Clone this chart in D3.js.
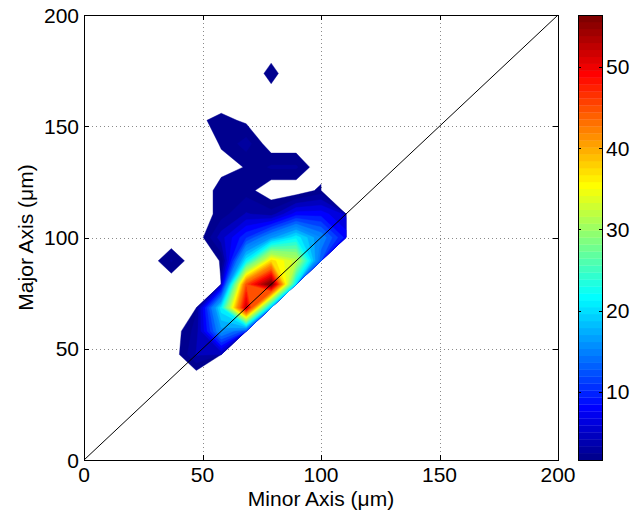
<!DOCTYPE html>
<html>
<head>
<meta charset="utf-8">
<script src="https://cdn.jsdelivr.net/npm/d3@7"></script>
<style>
  body { margin: 0; background: #fff; }
  svg { display: block; font-family: "Liberation Sans", Arial, Helvetica, sans-serif; }
</style>
</head>
<body>
<svg id="chart" width="631" height="512"></svg>
<script>
// Bin centres (µm) of the 2-D size histogram
const minorCenters = [5.26, 15.79, 26.32, 36.84, 47.37, 57.89, 68.42, 78.95, 89.47, 100.0, 110.53, 121.05];
const majorCenters = [5.26, 15.79, 26.32, 36.84, 47.37, 57.89, 68.42, 78.95, 89.47, 100.0,
                      110.53, 121.05, 131.58, 142.11, 152.63, 163.16, 173.68, 184.21, 194.74];

// Counts per bin, one row per major-axis bin (bottom row first).
// null = empty bin (left blank by contourf)
const n = null;
const counts = [
  [0, 0, n, n, n, n, n, n, n, n, n, n],
  [0, 0, 0, n, n, n, n, n, n, n, n, n],
  [0, 0, 0, 0, n, n, n, n, n, n, n, n],
  [0, 0, 0, 0, 0, n, n, n, n, n, n, n],
  [0, 0, 0, 0, 5, 5, n, n, n, n, n, n],
  [0, 0, 0, 0, 4, 17, 12, n, n, n, n, n],
  [0, 0, 0, n, 3, 22, 53, 18, n, n, n, n],
  [0, 0, 0, 0, n, 6, 46, 58, 21, n, n, n],
  [0, 0, 0, 3.4, 0, 1.75, 22, 38, 33, 13, n, n],
  [0, 0, 0, 0, 0, 5.75, 11, 17, 22, 16, 9, n],
  [0, 0, 0, 0, 0, 2.4, 5, 4, 8.9, 9, 6, n],
  [0, 0, 0, 0, 0, 2.4, 2.5, 0, 0, 2.2, n, n],
  [0, 0, 0, 0, 0, 1.0, 1.7, 3.5, 3.5, 0, n, n],
  [0, 0, 0, 0, 0, 1.8, 4, 0.35, 0.35, 0, n, n],
  [0, 0, 0, 0, 1.1, 2.3, 1.2, 0, 0, 0, n, n],
  [0, 0, 0, 0, 0, 0, 0, 0.77, 0, 0, n, n],
  [0, 0, 0, 0, 0, 0, 0, 2.27, 0, 0, n, n],
  [0, 0, 0, 0, 0, 0, 0, 0.77, 0, 0, n, n],
  [0, 0, 0, 0, 0, 0, 0, 0, 0, 0, n, n]
];

const axisTicks = [0, 50, 100, 150, 200];
const gridTicks = [50, 100, 150];
const colorTicks = [10, 20, 30, 40, 50];
const nLevels = 35;

// MATLAB-style jet colormap
function jetColormap(m) {
  const k = Math.ceil(m / 4);
  const u = [
    ...d3.range(1, k + 1).map(i => i / k),
    ...d3.range(k - 1).map(() => 1),
    ...d3.range(k, 0, -1).map(i => i / k)
  ];
  const g0 = Math.ceil(k / 2) - (m % 4 === 1 ? 1 : 0);
  const cmap = d3.range(m).map(() => [0, 0, 0]);
  u.forEach((val, i) => {
    const g = g0 + i, r = g + k, b = g - k;
    if (r < m) cmap[r][0] = val;
    if (g < m) cmap[g][1] = val;
    if (b >= 0) cmap[b][2] = val;
  });
  return cmap.map(c => d3.rgb(c[0] * 255, c[1] * 255, c[2] * 255).formatHex());
}
const jet = jetColormap(64);

const svg = d3.select("#chart");
const plot = { left: 84, right: 558, top: 15, bottom: 460 };
const cbar = { left: 578, right: 602 };

const x = d3.scaleLinear().domain([0, 200]).range([plot.left, plot.right]);
const y = d3.scaleLinear().domain([0, 200]).range([plot.bottom, plot.top]);

// contour levels as contourf picks them: evenly between 0 and the max
const nx = minorCenters.length, ny = majorCenters.length;
const zmax = d3.max(counts.flat().filter(v => v != null));
const levels = d3.range(1, nLevels + 1).map(i => i * zmax / (nLevels + 1));
const cmin = levels[0], cmax = levels[levels.length - 1];
const levelColor = v => jet[Math.max(0, Math.min(63, Math.floor((v - cmin) / (cmax - cmin) * 64)))];

// empty bins get a very low value so contour edges snap to the filled bins
const flat = counts.flatMap(row => row.map(v => v == null ? -1e9 : v));
const contours = d3.contours().size([nx, ny]).thresholds(levels)(flat);

const dxBin = minorCenters[1] - minorCenters[0];
const dyBin = majorCenters[1] - majorCenters[0];
const toScreen = d3.geoTransform({
  point(cx, cy) {
    this.stream.point(x(minorCenters[0] + (cx - 0.5) * dxBin), y(majorCenters[0] + (cy - 0.5) * dyBin));
  }
});
const path = d3.geoPath(toScreen);

svg.append("clipPath").attr("id", "plot-clip")
  .append("rect")
  .attr("x", plot.left).attr("y", plot.top)
  .attr("width", plot.right - plot.left).attr("height", plot.bottom - plot.top);

// grid
const grid = svg.append("g").attr("stroke", "#8a8a8a").attr("stroke-width", 1)
  .attr("stroke-dasharray", "1,3");
grid.selectAll(".gx").data(gridTicks).join("line")
  .attr("x1", d => Math.round(x(d)) + 0.5).attr("x2", d => Math.round(x(d)) + 0.5)
  .attr("y1", plot.top).attr("y2", plot.bottom);
grid.selectAll(".gy").data(gridTicks).join("line")
  .attr("y1", d => Math.round(y(d)) + 0.5).attr("y2", d => Math.round(y(d)) + 0.5)
  .attr("x1", plot.left).attr("x2", plot.right);

// filled contours
svg.append("g").attr("clip-path", "url(#plot-clip)")
  .selectAll("path").data(contours).join("path")
  .attr("d", path)
  .attr("fill", d => levelColor(d.value))
  .attr("stroke", d => levelColor(d.value))
  .attr("stroke-width", 0.4);

// y = x reference line
svg.append("line")
  .attr("x1", x(0)).attr("y1", y(0)).attr("x2", x(200)).attr("y2", y(200))
  .attr("stroke", "#000").attr("stroke-width", 1);

// axes box and ticks
const tickLen = 5;
const axes = svg.append("g").attr("stroke", "#000").attr("stroke-width", 1);
axes.append("rect")
  .attr("x", plot.left + 0.5).attr("y", plot.top + 0.5)
  .attr("width", plot.right - plot.left).attr("height", plot.bottom - plot.top)
  .attr("fill", "none");
axisTicks.forEach(t => {
  const tx = Math.round(x(t)) + 0.5, ty = Math.round(y(t)) + 0.5;
  axes.append("line").attr("x1", tx).attr("x2", tx).attr("y1", plot.bottom).attr("y2", plot.bottom - tickLen);
  axes.append("line").attr("x1", tx).attr("x2", tx).attr("y1", plot.top).attr("y2", plot.top + tickLen);
  axes.append("line").attr("y1", ty).attr("y2", ty).attr("x1", plot.left).attr("x2", plot.left + tickLen);
  axes.append("line").attr("y1", ty).attr("y2", ty).attr("x1", plot.right).attr("x2", plot.right - tickLen);
});

const fontSize = 21;
svg.append("g").selectAll("text").data(axisTicks).join("text")
  .attr("x", d => x(d)).attr("y", plot.bottom + 22)
  .attr("text-anchor", "middle").attr("font-size", fontSize)
  .text(d => d);
svg.append("g").selectAll("text").data(axisTicks).join("text")
  .attr("x", plot.left - 5).attr("y", d => y(d) + 7.5)
  .attr("text-anchor", "end").attr("font-size", fontSize)
  .text(d => d);

svg.append("text")
  .attr("x", (plot.left + plot.right) / 2).attr("y", 506)
  .attr("text-anchor", "middle").attr("font-size", fontSize)
  .text("Minor Axis (μm)");
svg.append("text")
  .attr("transform", `translate(33,${(plot.top + plot.bottom) / 2}) rotate(-90)`)
  .attr("text-anchor", "middle").attr("font-size", fontSize)
  .text("Major Axis (μm)");

// colorbar
const cy = d3.scaleLinear().domain([cmin, cmax]).range([plot.bottom, plot.top]);
const bandH = (plot.bottom - plot.top) / jet.length;
svg.append("g").selectAll("rect").data(jet).join("rect")
  .attr("x", cbar.left).attr("width", cbar.right - cbar.left)
  .attr("y", (d, i) => plot.bottom - (i + 1) * bandH)
  .attr("height", bandH + 0.3)
  .attr("fill", d => d);
const cb = svg.append("g").attr("stroke", "#000").attr("stroke-width", 1);
cb.append("rect")
  .attr("x", cbar.left + 0.5).attr("y", plot.top + 0.5)
  .attr("width", cbar.right - cbar.left).attr("height", plot.bottom - plot.top)
  .attr("fill", "none");
colorTicks.forEach(t => {
  const ty = Math.round(cy(t)) + 0.5;
  cb.append("line").attr("y1", ty).attr("y2", ty).attr("x1", cbar.left).attr("x2", cbar.left + 3);
  cb.append("line").attr("y1", ty).attr("y2", ty).attr("x1", cbar.right).attr("x2", cbar.right - 3);
});
svg.append("g").selectAll("text").data(colorTicks).join("text")
  .attr("x", cbar.right + 4).attr("y", d => cy(d) + 7.5)
  .attr("font-size", fontSize)
  .text(d => d);
</script>
</body>
</html>
